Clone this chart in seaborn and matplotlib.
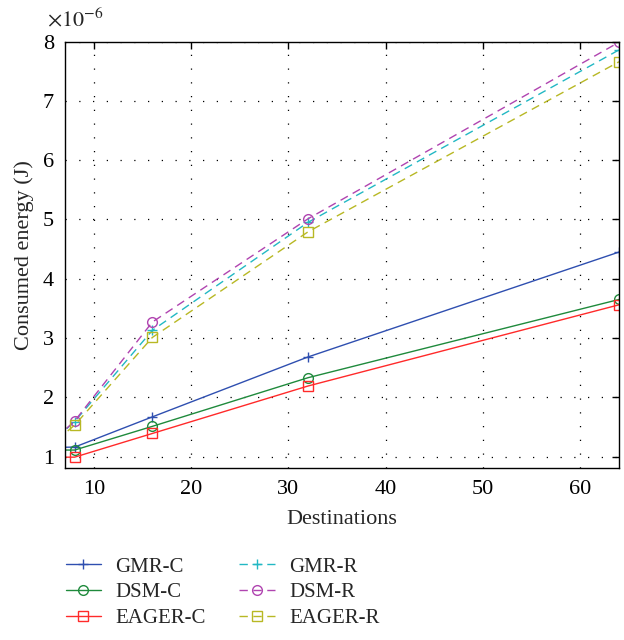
import matplotlib
matplotlib.use("Agg")
import matplotlib.pyplot as plt
import seaborn as sns
import pandas as pd

# Data (consumed energy in units of 1e-6 J)
destinations = [4, 8, 16, 32, 64]
gmr_c = [1.15, 1.16, 1.67, 2.68, 4.45]
dsm_c = [1.11, 1.11, 1.51, 2.33, 3.65]
eager_c = [0.99, 0.99, 1.39, 2.19, 3.56]
gmr_r = [1.00, 1.59, 3.13, 4.95, 7.86]
dsm_r = [1.00, 1.60, 3.27, 5.01, 7.99]
eager_r = [0.98, 1.53, 3.01, 4.79, 7.66]

series_names = ["GMR-C", "DSM-C", "EAGER-C", "GMR-R", "DSM-R", "EAGER-R"]
series_vals = [gmr_c, dsm_c, eager_c, gmr_r, dsm_r, eager_r]
colors = ["#2f4fb0", "#1f8a3c", "#ff2a2a", "#22b8c4", "#b044b0", "#b8b824"]
markers = ["+", "o", "s", "+", "o", "s"]
styles = ["-", "-", "-", "--", "--", "--"]

rows = []
for name, vals in zip(series_names, series_vals):
    for x, v in zip(destinations, vals):
        rows.append({"series": name, "Destinations": x, "energy": v})
df = pd.DataFrame(rows)

sns.set_style("white")
plt.rcParams["font.family"] = ["Liberation Serif", "DejaVu Serif"]
plt.rcParams["mathtext.fontset"] = "stix"

fig = plt.figure(figsize=(6.24, 6.4), dpi=100)
ax = fig.add_axes([0.104, 0.269, 0.888, 0.666])

for name, c, m, ls in zip(series_names, colors, markers, styles):
    sub = df[df["series"] == name]
    sns.lineplot(data=sub, x="Destinations", y="energy", ax=ax, color=c,
                 marker=m, linestyle=ls, linewidth=1.0, markersize=7,
                 label=name, legend=False)

for line, c, ls in zip(ax.lines, colors, styles):
    line.set_markerfacecolor("none")
    line.set_markeredgecolor(c)
    line.set_markeredgewidth(1.0)
    if ls == "--":
        line.set_dashes((6, 4))

ax.set_xlim(7, 64)
ax.set_ylim(0.81, 8)
ax.set_xticks([10, 20, 30, 40, 50, 60])
ax.set_yticks(list(range(1, 9)))

ax.grid(True, linestyle=(0, (1, 10)), color="black", linewidth=0.9)
ax.tick_params(direction="in", top=True, right=True, length=5, width=1,
               labelsize=16, colors="black")
ax.tick_params(axis="x", pad=9)
ax.tick_params(axis="y", pad=8)
for sp in ax.spines.values():
    sp.set_color("black")
    sp.set_linewidth(1.0)

ax.set_xlabel("Destinations", fontsize=16, labelpad=8)
ax.set_ylabel("Consumed energy (J)", fontsize=16, labelpad=6)

fig.text(47 / 624, 1 - 26 / 640, r"$\times10^{-6}$", fontsize=16,
         ha="left", va="baseline")

handles = ax.lines[:6]
leg = fig.legend(handles, series_names, ncol=2, loc="lower left",
                 bbox_to_anchor=(0.075, -0.011), frameon=False, fontsize=15,
                 handlelength=1.7, columnspacing=1.6, labelspacing=0.3,
                 handletextpad=0.7)

fig.savefig("out.png", dpi=100)
